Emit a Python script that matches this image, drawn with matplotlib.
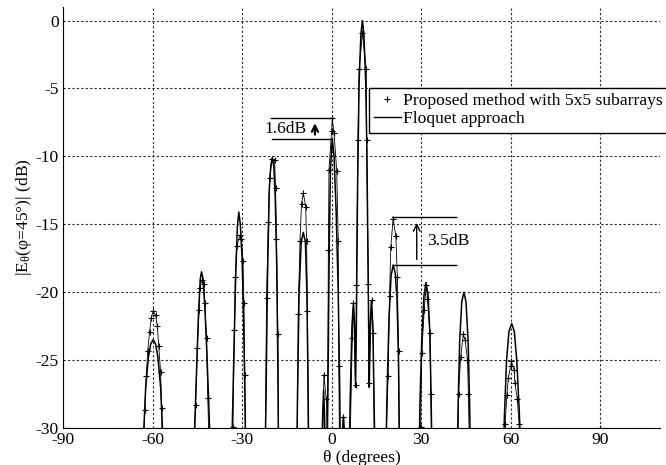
import numpy as np
import matplotlib
matplotlib.use('Agg')
import matplotlib.pyplot as plt
from matplotlib.lines import Line2D

plt.rcParams['font.family'] = ['Liberation Serif', 'DejaVu Serif']
plt.rcParams['mathtext.fontset'] = 'custom'
plt.rcParams['mathtext.rm'] = 'Liberation Serif'
plt.rcParams['mathtext.it'] = 'Liberation Serif:italic'
plt.rcParams['font.size'] = 12.6
plt.rcParams['axes.unicode_minus'] = False

nan = np.nan

# Floquet approach (solid line); points below -30 dB fall outside the axes
floq_theta = [-63.3, -62.9, -62.3, -61.4, -60.6, -59.8, -59.0, -58.2, -57.3, -56.7, -56.3,
              -46.2, -45.9, -45.3, -44.6, -44.0, -43.6, -43.1, -42.5, -41.8, -41.2, -40.9, -40.6,
              -33.6, -33.3, -32.7, -32.1, -31.6, -31.1, -30.6, -30.0, -29.5, -29.1, -28.9, -28.7,
              -22.3, -22.0, -21.5, -20.9, -20.4, -19.9, -19.4, -18.9, -18.4, -18.0, -17.8,
              -11.7, -11.4, -10.9, -10.2, -9.5, -8.8, -8.3, -7.9, -7.7,
              -3.3, -3.0, -2.7, -2.4, -2.1,
              -1.5, -1.2, -0.8, -0.4, 0.2, 0.8, 1.5, 2.2, 2.7, 2.9,
              3.3, 3.6, 4.0, 4.3, 4.5,
              5.9, 6.2, 6.8, 7.3, 7.7, 8.0, 8.3, 8.7, 9.2, 9.8, 10.3, 10.8, 11.4, 11.8, 12.2,
              12.6, 12.9, 13.3, 13.8, 14.2, 14.5,
              18.2, 18.5, 19.2, 19.9, 20.6, 21.3, 21.9, 22.4, 22.7,
              29.3, 29.6, 30.2, 30.9, 31.6, 32.3, 32.9, 33.3, 33.6,
              42.1, 42.4, 42.9, 43.6, 44.3, 45.0, 45.7, 46.2, 46.5,
              57.5, 57.9, 58.6, 59.4, 60.3, 61.2, 62.0, 62.8, 63.4]
floq_db = [-32, -30, -27, -24.8, -23.8, -23.5, -23.8, -24.8, -27, -30, -32,
           -32, -30, -26, -21.5, -19.0, -18.5, -19.0, -21.0, -24.5, -28, -30, -32,
           -32, -30, -24, -18.5, -15.2, -14.1, -15.0, -17.5, -22, -27, -30, -32,
           -32, -28, -19, -12.5, -10.7, -10.1, -10.7, -13, -18, -26, -32,
           -32, -27, -20, -16.3, -15.6, -16.3, -20, -27, -32,
           -32, -29, -27.2, -29, -32,
           -32, -26, -16.5, -11, -8.7, -10, -14, -20, -27, -32,
           -32, -30.5, -29.2, -30.5, -32,
           -32, -28, -22.5, -20.8, -22.5, -27, -22, -12, -4.5, -1, 0, -1, -4.5, -9.5, -18,
           -27, -22.5, -20.6, -22.5, -28, -32,
           -32, -28, -22, -18.8, -18.0, -18.6, -20.5, -25, -32,
           -32, -28, -23.5, -20.3, -19.3, -20.2, -23, -27.5, -32,
           -32, -28, -23.5, -20.7, -20.0, -20.7, -23.5, -28, -32,
           -32, -29, -25, -22.9, -22.3, -22.9, -25, -28.5, -32]

# Proposed method with 5x5 subarrays (markers), nan separates lobes
prop_theta = [-90, nan,
              -63.0, -62.6, -62.1, -61.6, -61.0, -60.4, -59.8, -59.0, -58.4, -57.9, -57.3, -57.0, -56.7, nan,
              -46.0, -45.6, -45.0, -44.4, -44.2, -43.5, -42.8, -42.5, -41.9, -41.5, -41.1, nan,
              -33.3, -33.1, -32.6, -32.3, -31.8, -30.7, -30.3, -29.7, -29.4, -29.1, -28.9, nan,
              -22.2, -21.8, -21.2, -20.8, -19.9, -19.1, -18.8, -18.5, -18.0, -17.8, nan,
              -11.5, -11.2, -10.6, -10.1, -9.5, -8.7, -8.4, -8.1, -7.8, nan,
              -3.0, -2.6, -1.8, -1.5, nan,
              -1.4, -1.1, -0.9, 0.0, 0.2, 0.8, 1.7, 2.2, 2.4, 2.6, nan,
              3.5, 3.8, 4.1, nan,
              6.2, 6.9, 7.3, 8.0, 8.3, 8.8, 9.2, 10.3, 11.6, 11.7, 12.3, 12.5, 13.4, 13.9, 14.3, nan,
              18.2, 18.9, 19.4, 19.8, 20.6, 21.5, 22.0, 22.4, 22.7, nan,
              29.6, 29.8, 30.2, 31.0, 31.7, 32.1, 32.9, 33.2, 33.5, nan,
              42.3, 42.5, 43.2, 44.1, 44.7, 45.5, 45.8, 46.1, nan,
              57.9, 58.1, 58.7, 59.2, 60.0, 60.2, 61.1, 61.4, 62.2, 62.8, 63.1, nan,
              90]
prop_db = [-30, nan,
           -31, -28.7, -26.2, -24.3, -22.9, -21.9, -21.4, -21.7, -22.5, -24.0, -25.9, -28.5, -31, nan,
           -31, -28.3, -24.1, -21.3, -19.7, -19.1, -19.4, -20.8, -23.4, -27.8, -31, nan,
           -31, -29.95, -22.8, -18.9, -16.6, -15.8, -16.1, -17.7, -20.8, -26.1, -31, nan,
           -31, -20.4, -14.8, -11.6, -10.2, -10.3, -12.3, -16.1, -23.1, -31, nan,
           -31, -21.6, -16.2, -13.5, -12.7, -13.7, -16.2, -21.4, -31, nan,
           -31, -26.1, -27.9, -31, nan,
           -31, -16.9, -11.0, -8.1, -7.2, -8.3, -11.1, -16.2, -25.4, -31, nan,
           -31, -29.2, -31, nan,
           -31, -23.4, -20.8, -26.8, -19.5, -8.8, -3.6, -0.9, -3.6, -8.8, -19.4, -26.7, -20.6, -23.0, -31, nan,
           -31, -26.2, -20.3, -16.7, -14.6, -15.9, -18.9, -24.3, -31, nan,
           -31, -29.9, -24.5, -21.3, -19.5, -20.5, -23.0, -27.5, -31, nan,
           -31, -27.5, -24.8, -23.1, -23.5, -25.0, -27.5, -31, nan,
           -31, -29.7, -27.6, -26.3, -25.4, -25.1, -25.7, -26.7, -27.9, -29.7, -31, nan,
           -30]

x_ticks = [-90, -60, -30, 0, 30, 60, 90]
y_ticks = [0, -5, -10, -15, -20, -25, -30]

fig = plt.figure(figsize=(6.66, 4.65), dpi=100)
ax = fig.add_axes([0.0946, 0.0796, 0.8964, 0.9054])

ax.plot(floq_theta, floq_db, color='k', lw=1.1)
ax.plot(prop_theta, prop_db, color='k', lw=0.6)
ax.plot(prop_theta, prop_db, ls='none', marker='+', ms=5, mew=0.8, color='k')

ax.set_xlim(-90, 110)
ax.set_ylim(-30, 1)
ax.set_xticks(x_ticks)
ax.set_yticks(y_ticks)
ax.tick_params(length=0, pad=3)
ax.grid(True, color='0.15', ls=(0, (2, 2)), lw=0.8)
ax.spines['top'].set_visible(False)
ax.spines['right'].set_visible(False)

ax.set_xlabel('θ (degrees)', labelpad=1)
ax.set_ylabel(r'|E$_{\mathrm{θ}}$(φ=45°)| (dB)', labelpad=1)

# 1.6 dB annotation
ax.plot([-20.4, 0.3], [-7.2, -7.2], color='k', lw=1.0)
ax.plot([-19.9, 0.2], [-8.7, -8.7], color='k', lw=1.0)
ax.text(-22.4, -7.95, '1.6dB', ha='left', va='center')
ax.annotate('', xy=(-5.6, -7.35), xytext=(-5.6, -8.6),
            arrowprops=dict(arrowstyle='->', color='k', lw=1.6, mutation_scale=11))

# 3.5 dB annotation
ax.plot([20.3, 41.6], [-14.5, -14.5], color='k', lw=1.0)
ax.plot([20.7, 41.6], [-18.0, -18.0], color='k', lw=1.0)
ax.annotate('', xy=(28.5, -14.7), xytext=(28.5, -17.8),
            arrowprops=dict(arrowstyle='->', color='k', lw=1.0, mutation_scale=12))
ax.text(32.0, -16.2, '3.5dB', ha='left', va='center')

handles = [Line2D([], [], ls='none', marker='+', ms=4, mew=0.8, color='k'),
           Line2D([], [], color='k', lw=1.0)]
leg = ax.legend(handles, ['Proposed method with 5x5 subarrays', 'Floquet approach'],
                loc='upper left', bbox_to_anchor=(0.5126, 0.8076), borderaxespad=0,
                fancybox=False, framealpha=1, edgecolor='k', handlelength=1.5,
                handletextpad=0.15, borderpad=0.3, labelspacing=0.1)
leg.get_frame().set_linewidth(1.0)

fig.savefig('out.png', dpi=100)
